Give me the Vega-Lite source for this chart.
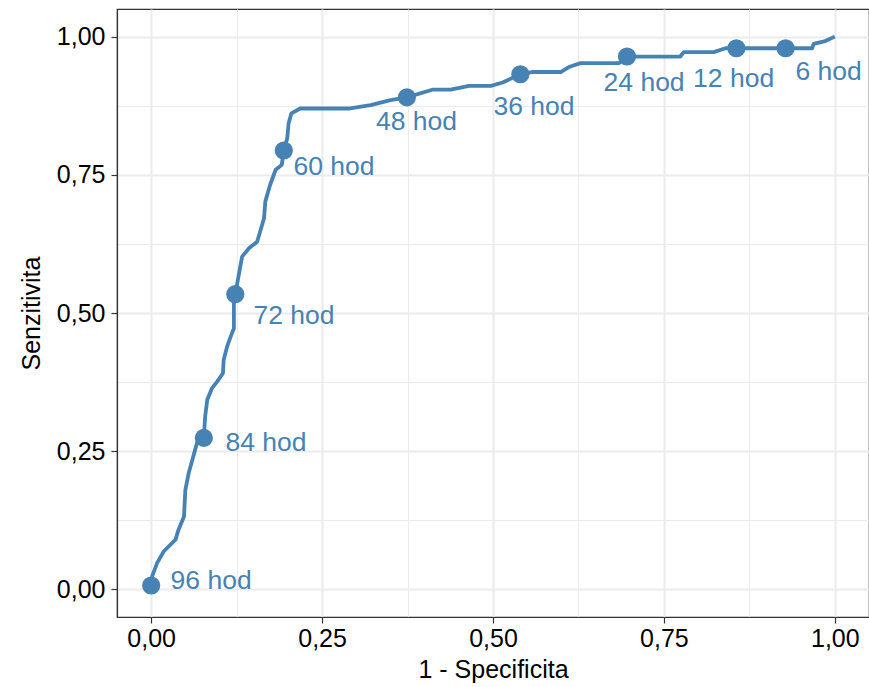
{
  "$schema": "https://vega.github.io/schema/vega-lite/v6.json",
  "autosize": {"type": "none"},
  "padding": {"left": 117, "top": 9, "right": 0, "bottom": 70},
  "width": 752,
  "height": 608,
  "background": "white",
  "config": {
    "font": "Liberation Sans",
    "view": {"stroke": "#333333", "strokeWidth": 1.2},
    "axis": {
      "domainColor": "#333333",
      "domainWidth": 1.2,
      "tickColor": "#333333",
      "tickWidth": 1.2,
      "tickSize": 6,
      "labelColor": "black",
      "labelFont": "Liberation Sans",
      "labelFontSize": 25,
      "titleFont": "Liberation Sans",
      "titleFontSize": 25,
      "titleFontWeight": "normal",
      "titleColor": "black",
      "gridColor": "#EBEBEB"
    }
  },
  "datasets": {
    "curve": [
      {"i": 0, "fpr": 0.0, "tpr": 0.005},
      {"i": 1, "fpr": 0.0015, "tpr": 0.024},
      {"i": 2, "fpr": 0.0088, "tpr": 0.048},
      {"i": 3, "fpr": 0.0185, "tpr": 0.069},
      {"i": 4, "fpr": 0.0356, "tpr": 0.09},
      {"i": 5, "fpr": 0.04, "tpr": 0.108},
      {"i": 6, "fpr": 0.048, "tpr": 0.132},
      {"i": 7, "fpr": 0.05, "tpr": 0.18},
      {"i": 8, "fpr": 0.055, "tpr": 0.211},
      {"i": 9, "fpr": 0.067, "tpr": 0.265},
      {"i": 10, "fpr": 0.077, "tpr": 0.274},
      {"i": 11, "fpr": 0.079, "tpr": 0.313},
      {"i": 12, "fpr": 0.082, "tpr": 0.343},
      {"i": 13, "fpr": 0.089, "tpr": 0.364},
      {"i": 14, "fpr": 0.0965, "tpr": 0.376},
      {"i": 15, "fpr": 0.105, "tpr": 0.391},
      {"i": 16, "fpr": 0.106, "tpr": 0.415},
      {"i": 17, "fpr": 0.111, "tpr": 0.439},
      {"i": 18, "fpr": 0.118, "tpr": 0.463},
      {"i": 19, "fpr": 0.121, "tpr": 0.472},
      {"i": 20, "fpr": 0.121, "tpr": 0.517},
      {"i": 21, "fpr": 0.123, "tpr": 0.534},
      {"i": 22, "fpr": 0.133, "tpr": 0.602},
      {"i": 23, "fpr": 0.143, "tpr": 0.617},
      {"i": 24, "fpr": 0.155, "tpr": 0.629},
      {"i": 25, "fpr": 0.165, "tpr": 0.671},
      {"i": 26, "fpr": 0.167, "tpr": 0.702},
      {"i": 27, "fpr": 0.174, "tpr": 0.732},
      {"i": 28, "fpr": 0.182, "tpr": 0.759},
      {"i": 29, "fpr": 0.191, "tpr": 0.768},
      {"i": 30, "fpr": 0.194, "tpr": 0.794},
      {"i": 31, "fpr": 0.199, "tpr": 0.816},
      {"i": 32, "fpr": 0.201, "tpr": 0.843},
      {"i": 33, "fpr": 0.205, "tpr": 0.861},
      {"i": 34, "fpr": 0.218, "tpr": 0.87},
      {"i": 35, "fpr": 0.291, "tpr": 0.87},
      {"i": 36, "fpr": 0.321, "tpr": 0.876},
      {"i": 37, "fpr": 0.35, "tpr": 0.885},
      {"i": 38, "fpr": 0.374, "tpr": 0.89},
      {"i": 39, "fpr": 0.411, "tpr": 0.904},
      {"i": 40, "fpr": 0.438, "tpr": 0.904},
      {"i": 41, "fpr": 0.465, "tpr": 0.911},
      {"i": 42, "fpr": 0.497, "tpr": 0.911},
      {"i": 43, "fpr": 0.514, "tpr": 0.917},
      {"i": 44, "fpr": 0.54, "tpr": 0.932},
      {"i": 45, "fpr": 0.557, "tpr": 0.936},
      {"i": 46, "fpr": 0.599, "tpr": 0.936},
      {"i": 47, "fpr": 0.611, "tpr": 0.945},
      {"i": 48, "fpr": 0.628, "tpr": 0.952},
      {"i": 49, "fpr": 0.684, "tpr": 0.952},
      {"i": 50, "fpr": 0.696, "tpr": 0.964},
      {"i": 51, "fpr": 0.774, "tpr": 0.964},
      {"i": 52, "fpr": 0.779, "tpr": 0.972},
      {"i": 53, "fpr": 0.823, "tpr": 0.972},
      {"i": 54, "fpr": 0.84, "tpr": 0.979},
      {"i": 55, "fpr": 0.856, "tpr": 0.979},
      {"i": 56, "fpr": 0.928, "tpr": 0.979},
      {"i": 57, "fpr": 0.967, "tpr": 0.979},
      {"i": 58, "fpr": 0.969, "tpr": 0.987},
      {"i": 59, "fpr": 0.986, "tpr": 0.992},
      {"i": 60, "fpr": 1.0, "tpr": 1.0}
    ],
    "pts": [
      {"label": "96 hod", "fpr": 0.0, "tpr": 0.007, "lx": 0.0877, "ly": 0.001},
      {"label": "84 hod", "fpr": 0.077, "tpr": 0.274, "lx": 0.168, "ly": 0.2496},
      {"label": "72 hod", "fpr": 0.123, "tpr": 0.534, "lx": 0.209, "ly": 0.48},
      {"label": "60 hod", "fpr": 0.194, "tpr": 0.794, "lx": 0.2675, "ly": 0.7496},
      {"label": "48 hod", "fpr": 0.374, "tpr": 0.89, "lx": 0.388, "ly": 0.831},
      {"label": "36 hod", "fpr": 0.54, "tpr": 0.932, "lx": 0.56, "ly": 0.859},
      {"label": "24 hod", "fpr": 0.696, "tpr": 0.964, "lx": 0.721, "ly": 0.901},
      {"label": "12 hod", "fpr": 0.856, "tpr": 0.979, "lx": 0.852, "ly": 0.909},
      {"label": "6 hod", "fpr": 0.928, "tpr": 0.979, "lx": 0.991, "ly": 0.921}
    ]
  },
  "layer": [
    {
      "data": {"name": "curve"},
      "mark": {"type": "line", "color": "#4682B4", "strokeWidth": 3.8, "strokeJoin": "round", "clip": true},
      "encoding": {
        "x": {
          "field": "fpr", "type": "quantitative",
          "scale": {"domain": [-0.05, 1.05], "nice": false, "zero": false},
          "axis": {
            "title": "1 - Specificita",
            "values": [0, 0.125, 0.25, 0.375, 0.5, 0.625, 0.75, 0.875, 1],
            "labelExpr": "(datum.value * 8) % 2 == 0 ? replace(format(datum.value, '.2f'), '.', ',') : ''",
            "tickOpacity": {"condition": {"test": "(datum.value * 8) % 2 == 1", "value": 0}, "value": 1},
            "gridWidth": {"condition": {"test": "(datum.value * 8) % 2 == 1", "value": 1}, "value": 2},
            "labelPadding": 3,
            "titlePadding": 6,
            "labelFlush": false
          }
        },
        "y": {
          "field": "tpr", "type": "quantitative",
          "scale": {"domain": [-0.05, 1.05], "nice": false, "zero": false},
          "axis": {
            "title": "Senzitivita",
            "values": [0, 0.125, 0.25, 0.375, 0.5, 0.625, 0.75, 0.875, 1],
            "labelExpr": "(datum.value * 8) % 2 == 0 ? replace(format(datum.value, '.2f'), '.', ',') : ''",
            "tickOpacity": {"condition": {"test": "(datum.value * 8) % 2 == 1", "value": 0}, "value": 1},
            "gridWidth": {"condition": {"test": "(datum.value * 8) % 2 == 1", "value": 1}, "value": 2},
            "labelPadding": 6,
            "titlePadding": 12,
            "labelFlush": false
          }
        },
        "order": {"field": "i", "type": "quantitative"}
      }
    },
    {
      "data": {"name": "pts"},
      "mark": {"type": "point", "filled": true, "opacity": 1, "color": "#4682B4", "size": 330},
      "encoding": {
        "x": {"field": "fpr", "type": "quantitative"},
        "y": {"field": "tpr", "type": "quantitative"}
      }
    },
    {
      "data": {"name": "pts"},
      "mark": {"type": "text", "color": "#4682B4", "fontSize": 26.5, "font": "Liberation Sans", "align": "center", "baseline": "alphabetic"},
      "encoding": {
        "x": {"field": "lx", "type": "quantitative"},
        "y": {"field": "ly", "type": "quantitative"},
        "text": {"field": "label"}
      }
    }
  ]
}
